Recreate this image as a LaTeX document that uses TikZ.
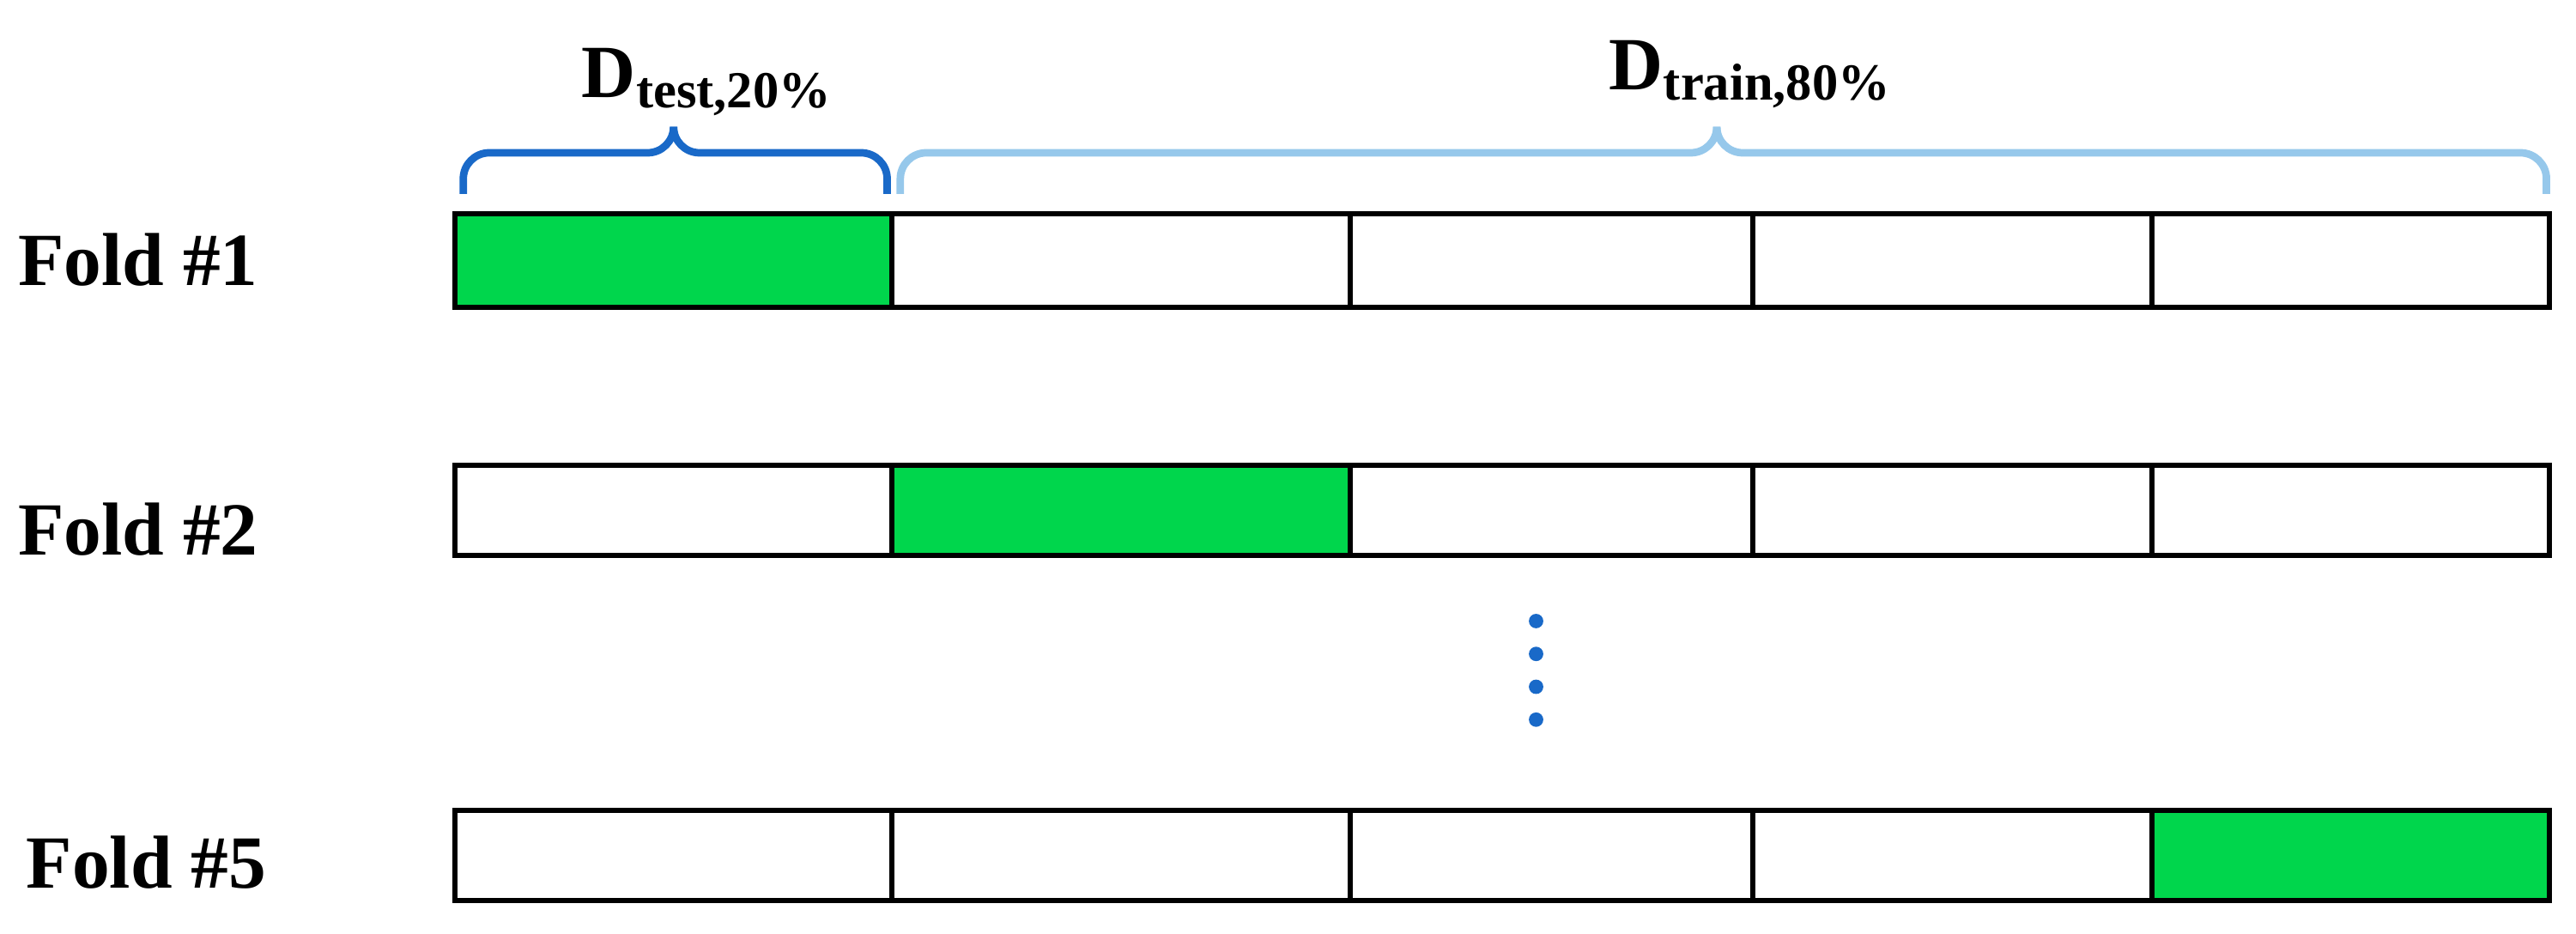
\documentclass[tikz,border=0pt]{standalone}
\usepackage{fontspec}
\setmainfont{Liberation Serif}
\begin{document}
\begin{tikzpicture}[x=0.02cm,y=-0.02cm,
 cell/.style={draw=black,line width=1.8pt},
 lab/.style={font=\fontsize{26}{30}\selectfont\bfseries,anchor=center},
 dark/.style={draw=db,line width=2.6pt,rounded corners=9},
 light/.style={draw=lb,line width=2.6pt,rounded corners=9},
 dot/.style={circle,fill=db,inner sep=0pt,minimum size=5pt}]
\definecolor{gr}{RGB}{0,214,76}
\definecolor{db}{RGB}{25,105,200}
\definecolor{lb}{RGB}{150,200,235}
\useasboundingbox (0,0) rectangle (1568,568);
\def\xs{{277,543,822,1067,1310,1552}}
\foreach \r/\ya/\yb/\t in {1/130/187/0,2/283/338/1,5/493/548/4}{
  \foreach \i in {0,...,4}{
    \pgfmathsetmacro\xa{\xs[\i]}\pgfmathsetmacro\xb{\xs[\i+1]}
    \ifnum\i=\t
      \draw[cell,fill=gr] (\xa,\ya) rectangle (\xb,\yb);
    \else
      \draw[cell] (\xa,\ya) rectangle (\xb,\yb);
    \fi
  }
}
\node[lab] (f1) at (84,158) {Fold \#1};
\node[lab] (f2) at (84,322) {Fold \#2};
\node[lab] (f5) at (89,525) {Fold \#5};
\foreach \y [count=\k] in {378,398,418,438} \node[dot] (d\k) at (935,\y) {};
\draw[dark] (282,118)--(282,93)--(410,93)--(410,80);
\draw[dark] (410,80)--(410,93)--(540,93)--(540,118);
\draw[light] (548,118)--(548,93)--(1045,93)--(1045,80);
\draw[light] (1045,80)--(1045,93)--(1550,93)--(1550,118);
\node[lab] (dt) at (430,50) {D\raisebox{-0.3ex}{\fontsize{18}{20}\selectfont test,20\%}};
\node[lab] (dr) at (1065,45) {D\raisebox{-0.3ex}{\fontsize{18}{20}\selectfont train,80\%}};
\end{tikzpicture}
\end{document}
